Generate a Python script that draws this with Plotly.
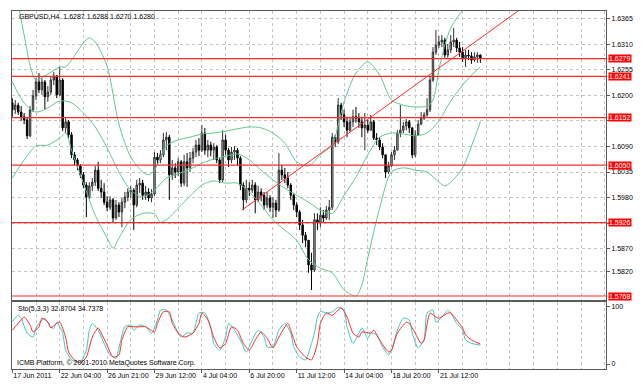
import plotly.graph_objects as go

# ---------------- data ----------------
bars = list(range(159))

opens = [
    1.6184, 1.6169, 1.6179, 1.6164, 1.6154, 1.6147, 1.6113, 1.6169, 1.6199, 1.6229,
    1.6212, 1.6229, 1.6197, 1.6207, 1.6233, 1.6242, 1.6201, 1.6233, 1.6130, 1.6143,
    1.6115, 1.6072, 1.6061, 1.6048, 1.6029, 1.6007, 1.5981, 1.6005, 1.6013, 1.6039,
    1.6000, 1.5992, 1.5970, 1.5959, 1.5975, 1.5936, 1.5964, 1.5949, 1.5970, 1.5981,
    1.5992, 1.5996, 1.5964, 1.6007, 1.6011, 1.5985, 1.5992, 1.5979, 1.5988, 1.6067,
    1.6061, 1.6072, 1.6104, 1.6110, 1.6029, 1.6044, 1.6035, 1.6057, 1.6011, 1.6057,
    1.6044, 1.6065, 1.6078, 1.6093, 1.6082, 1.6119, 1.6082, 1.6093, 1.6082, 1.6089,
    1.6061, 1.6018, 1.6104, 1.6082, 1.6061, 1.6078, 1.6082, 1.6065, 1.6007, 1.5975,
    1.6000, 1.5996, 1.6007, 1.5975, 1.5992, 1.5985, 1.5964, 1.5979, 1.5959, 1.5968,
    1.5953, 1.6039, 1.6029, 1.6022, 1.6007, 1.5985, 1.5964, 1.5949, 1.5921, 1.5899,
    1.5888, 1.5835, 1.5824, 1.5932, 1.5927, 1.5942, 1.5936, 1.5953, 1.5959, 1.6110,
    1.6100, 1.6179, 1.6158, 1.6143, 1.6125, 1.6143, 1.6154, 1.6151, 1.6143, 1.6130,
    1.6136, 1.6125, 1.6143, 1.6108, 1.6104, 1.6089, 1.6072, 1.6035, 1.6048, 1.6072,
    1.6082, 1.6119, 1.6125, 1.6134, 1.6143, 1.6130, 1.6072, 1.6115, 1.6138, 1.6151,
    1.6158, 1.6169, 1.6233, 1.6293, 1.6308, 1.6315, 1.6319, 1.6287, 1.6298, 1.6315,
    1.6319, 1.6302, 1.6293, 1.6281, 1.6287, 1.6285, 1.6276, 1.6283, 1.6287,
]
highs = [
    1.6194, 1.6190, 1.6184, 1.6177, 1.6162, 1.6154, 1.6177, 1.6212, 1.6237, 1.6248,
    1.6237, 1.6233, 1.6220, 1.6240, 1.6250, 1.6244, 1.6261, 1.6237, 1.6151, 1.6147,
    1.6121, 1.6078, 1.6065, 1.6052, 1.6035, 1.6013, 1.6013, 1.6022, 1.6048, 1.6057,
    1.6018, 1.6011, 1.5983, 1.5983, 1.5979, 1.5975, 1.5970, 1.5979, 1.5992, 1.6000,
    1.6005, 1.6000, 1.6018, 1.6022, 1.6018, 1.6005, 1.6000, 1.5998, 1.6078, 1.6076,
    1.6082, 1.6119, 1.6121, 1.6115, 1.6061, 1.6054, 1.6065, 1.6061, 1.6072, 1.6076,
    1.6078, 1.6087, 1.6104, 1.6108, 1.6136, 1.6130, 1.6104, 1.6100, 1.6097, 1.6093,
    1.6065, 1.6125, 1.6115, 1.6087, 1.6089, 1.6091, 1.6087, 1.6069, 1.6013, 1.6018,
    1.6013, 1.6018, 1.6013, 1.6005, 1.6000, 1.5992, 1.5992, 1.5985, 1.5981, 1.5975,
    1.6076, 1.6050, 1.6044, 1.6035, 1.6011, 1.5990, 1.5970, 1.5953, 1.5932, 1.5906,
    1.5888, 1.5861, 1.5946, 1.5946, 1.5959, 1.5953, 1.5962, 1.5975, 1.6119, 1.6115,
    1.6194, 1.6184, 1.6169, 1.6154, 1.6154, 1.6169, 1.6175, 1.6162, 1.6154, 1.6162,
    1.6147, 1.6158, 1.6147, 1.6119, 1.6110, 1.6097, 1.6072, 1.6057, 1.6078, 1.6091,
    1.6125, 1.6179, 1.6143, 1.6149, 1.6147, 1.6132, 1.6125, 1.6147, 1.6164, 1.6164,
    1.6194, 1.6240, 1.6304, 1.6341, 1.6328, 1.6330, 1.6324, 1.6311, 1.6330, 1.6345,
    1.6324, 1.6315, 1.6304, 1.6298, 1.6298, 1.6293, 1.6293, 1.6293, 1.6288,
]
lows = [
    1.6154, 1.6160, 1.6158, 1.6145, 1.6138, 1.6106, 1.6110, 1.6164, 1.6190, 1.6205,
    1.6201, 1.6169, 1.6186, 1.6201, 1.6222, 1.6194, 1.6199, 1.6123, 1.6119, 1.6108,
    1.6065, 1.6050, 1.6039, 1.6022, 1.6000, 1.5938, 1.5977, 1.5994, 1.6005, 1.5994,
    1.5979, 1.5964, 1.5951, 1.5953, 1.5925, 1.5932, 1.5938, 1.5916, 1.5957, 1.5972,
    1.5979, 1.5910, 1.5959, 1.5990, 1.5975, 1.5975, 1.5972, 1.5970, 1.5983, 1.6050,
    1.6054, 1.6067, 1.6082, 1.5975, 1.6018, 1.6022, 1.6026, 1.6003, 1.6005, 1.6003,
    1.6035, 1.6054, 1.6067, 1.6069, 1.6078, 1.6072, 1.6067, 1.6069, 1.6061, 1.6054,
    1.6011, 1.6013, 1.6072, 1.6046, 1.6054, 1.6061, 1.6048, 1.5996, 1.5953, 1.5968,
    1.5983, 1.5990, 1.5946, 1.5970, 1.5972, 1.5953, 1.5957, 1.5949, 1.5936, 1.5938,
    1.5949, 1.6018, 1.6011, 1.6000, 1.5975, 1.5953, 1.5938, 1.5910, 1.5882, 1.5873,
    1.5818, 1.5781, 1.5820, 1.5910, 1.5916, 1.5925, 1.5932, 1.5932, 1.5953, 1.6089,
    1.6095, 1.6147, 1.6132, 1.6110, 1.6121, 1.6132, 1.6141, 1.6130, 1.6110, 1.6082,
    1.6119, 1.6125, 1.6104, 1.6093, 1.6082, 1.6065, 1.6022, 1.6031, 1.6046, 1.6061,
    1.6082, 1.6110, 1.6119, 1.6125, 1.6119, 1.6065, 1.6067, 1.6113, 1.6136, 1.6147,
    1.6154, 1.6164, 1.6229, 1.6287, 1.6302, 1.6304, 1.6281, 1.6281, 1.6291, 1.6304,
    1.6293, 1.6283, 1.6272, 1.6261, 1.6276, 1.6268, 1.6272, 1.6270, 1.6270,
]
closes = [
    1.6169, 1.6179, 1.6164, 1.6154, 1.6147, 1.6113, 1.6169, 1.6199, 1.6229, 1.6212,
    1.6229, 1.6197, 1.6207, 1.6233, 1.6242, 1.6201, 1.6233, 1.6130, 1.6143, 1.6115,
    1.6072, 1.6061, 1.6048, 1.6029, 1.6007, 1.5981, 1.6005, 1.6013, 1.6039, 1.6000,
    1.5992, 1.5970, 1.5959, 1.5975, 1.5936, 1.5964, 1.5949, 1.5970, 1.5981, 1.5992,
    1.5996, 1.5964, 1.6007, 1.6011, 1.5985, 1.5992, 1.5979, 1.5988, 1.6067, 1.6061,
    1.6072, 1.6104, 1.6110, 1.6029, 1.6044, 1.6035, 1.6057, 1.6011, 1.6057, 1.6044,
    1.6065, 1.6078, 1.6093, 1.6082, 1.6119, 1.6082, 1.6093, 1.6082, 1.6089, 1.6061,
    1.6018, 1.6104, 1.6082, 1.6061, 1.6078, 1.6082, 1.6065, 1.6007, 1.5975, 1.6000,
    1.5996, 1.6007, 1.5975, 1.5992, 1.5985, 1.5964, 1.5979, 1.5959, 1.5968, 1.5953,
    1.6039, 1.6029, 1.6022, 1.6007, 1.5985, 1.5964, 1.5949, 1.5921, 1.5899, 1.5888,
    1.5835, 1.5824, 1.5932, 1.5927, 1.5942, 1.5936, 1.5953, 1.5959, 1.6110, 1.6100,
    1.6179, 1.6158, 1.6143, 1.6125, 1.6143, 1.6154, 1.6151, 1.6143, 1.6130, 1.6136,
    1.6125, 1.6143, 1.6108, 1.6104, 1.6089, 1.6072, 1.6035, 1.6048, 1.6072, 1.6082,
    1.6119, 1.6125, 1.6134, 1.6143, 1.6130, 1.6072, 1.6115, 1.6138, 1.6151, 1.6158,
    1.6169, 1.6233, 1.6293, 1.6308, 1.6315, 1.6319, 1.6287, 1.6298, 1.6315, 1.6319,
    1.6302, 1.6293, 1.6281, 1.6287, 1.6285, 1.6276, 1.6283, 1.6287, 1.6280,
]

# Bollinger bands (sampled along the drawn curves)
bb_upper_x = [0, 2, 4, 6, 8, 12, 16, 18, 20, 24, 26, 28, 32, 36, 40, 44, 46, 48, 52, 56,
              60, 64, 68, 72, 76, 80, 84, 88, 92, 96, 100, 104, 108, 110, 112, 116, 120, 124, 128, 132,
              136, 140, 142, 144, 146, 148, 152, 156, 158]
bb_upper = [1.6459, 1.6397, 1.6330, 1.6265, 1.6233, 1.6246, 1.6261, 1.6261, 1.6276, 1.6313,
            1.6324, 1.6315, 1.6263, 1.6138, 1.6067, 1.6035, 1.6029, 1.6039, 1.6091, 1.6104,
            1.6110, 1.6117, 1.6119, 1.6123, 1.6128, 1.6132, 1.6130, 1.6119, 1.6097, 1.6057,
            1.6048, 1.6072, 1.6093, 1.6136, 1.6186, 1.6248, 1.6272, 1.6244, 1.6190, 1.6179,
            1.6175, 1.6177, 1.6190, 1.6255, 1.6308, 1.6345, 1.6382, 1.6397, 1.6392]
bb_mid_x = [0, 4, 8, 12, 16, 20, 24, 28, 32, 36, 40, 44, 48, 52, 56, 60, 64, 68, 72, 76,
            80, 84, 88, 92, 96, 100, 104, 108, 112, 116, 120, 124, 128, 132, 136, 140, 144, 148, 152, 156, 158]
bb_mid = [1.6229, 1.6184, 1.6164, 1.6173, 1.6188, 1.6184, 1.6162, 1.6132, 1.6087, 1.6035,
          1.5996, 1.5981, 1.5996, 1.6022, 1.6031, 1.6041, 1.6054, 1.6063, 1.6069, 1.6074,
          1.6061, 1.6039, 1.6018, 1.6000, 1.5985, 1.5970, 1.5953, 1.5946, 1.5985, 1.6024,
          1.6072, 1.6110, 1.6119, 1.6117, 1.6113, 1.6119, 1.6145, 1.6188, 1.6222, 1.6250, 1.6261]
bb_lower_x = [0, 4, 8, 12, 16, 18, 20, 24, 28, 32, 34, 36, 40, 44, 48, 50, 52, 56, 60, 64,
              68, 72, 76, 80, 84, 88, 92, 96, 100, 104, 108, 112, 116, 118, 120, 124, 128, 132, 136, 140,
              144, 146, 148, 152, 156, 158]
bb_lower = [1.6022, 1.6061, 1.6091, 1.6093, 1.6108, 1.6119, 1.6082, 1.6011, 1.5942, 1.5893,
            1.5871, 1.5893, 1.5932, 1.5946, 1.5945, 1.5927, 1.5932, 1.5957, 1.5983, 1.6007,
            1.6016, 1.6011, 1.6011, 1.5992, 1.5964, 1.5932, 1.5910, 1.5888, 1.5846, 1.5828,
            1.5818, 1.5781, 1.5768, 1.5792, 1.5850, 1.5957, 1.6035, 1.6044, 1.6039, 1.6035,
            1.6013, 1.6005, 1.6013, 1.6044, 1.6108, 1.6143]

# Stochastic (5,3,3)
sto_main_x = [0, 2, 3, 5, 7, 8, 10, 11, 13, 14, 15, 17, 18, 20, 21, 23, 25, 26, 27, 29,
              31, 33, 35, 36, 38, 40, 41, 43, 45, 47, 49, 50, 52, 54, 56, 57, 59, 61, 62, 63,
              65, 67, 68, 70, 72, 73, 75, 77, 79, 81, 83, 85, 86, 88, 90, 92, 94, 95, 97, 99,
              100, 102, 103, 104, 106, 108, 110, 112, 113, 115, 117, 118, 120, 121, 123, 125, 127, 128, 130, 132,
              134, 135, 137, 139, 140, 142, 143, 145, 147, 148, 150, 152, 153, 155, 158]
sto_main = [74, 85, 80, 54, 47, 63, 77, 80, 65, 62, 73, 54, 24, 8, 4, 4, 24, 59, 71, 59,
            36, 16, 10, 28, 65, 68, 59, 68, 65, 54, 77, 94, 94, 77, 54, 47, 54, 54, 71, 89,
            89, 65, 36, 24, 47, 71, 59, 42, 21, 42, 59, 47, 30, 30, 59, 71, 54, 30, 12, 7,
            19, 54, 82, 92, 89, 91, 99, 94, 65, 36, 54, 63, 45, 54, 51, 30, 16, 24, 59, 80,
            77, 54, 28, 42, 89, 94, 73, 82, 94, 89, 71, 59, 42, 36, 32.87]
sto_signal_x = [0, 3, 4, 6, 7, 9, 10, 12, 13, 15, 16, 18, 19, 21, 23, 25, 27, 29, 30, 32,
                34, 36, 37, 39, 41, 43, 45, 48, 49, 51, 53, 54, 56, 58, 61, 63, 64, 66, 68, 70,
                72, 74, 76, 78, 80, 82, 84, 86, 88, 90, 93, 94, 96, 99, 101, 103, 104, 106, 108, 111,
                113, 115, 117, 118, 121, 122, 124, 127, 128, 130, 133, 134, 136, 138, 139, 141, 143, 144, 147, 148,
                150, 152, 153, 155, 158]
sto_signal = [59, 77, 82, 68, 56, 65, 80, 73, 63, 71, 73, 47, 21, 7, 2, 12, 47, 63, 54, 33,
              12, 16, 42, 65, 65, 65, 65, 56, 71, 91, 91, 71, 54, 47, 54, 71, 89, 77, 47, 28,
              36, 65, 59, 36, 24, 42, 56, 45, 28, 47, 71, 59, 30, 12, 7, 36, 71, 89, 85, 98,
              82, 54, 47, 56, 54, 59, 42, 21, 24, 54, 73, 71, 54, 36, 42, 89, 82, 80, 89, 89,
              77, 63, 51, 42, 34.74]

level_prices = [1.6279, 1.6241, 1.6152, 1.6050, 1.5926, 1.5768]
trend_x = [77.5, 171.0]
trend_y = [1.5953, 1.6383]

price_ticks = [1.6365, 1.6310, 1.6255, 1.6200, 1.6145, 1.6090, 1.6035, 1.5980, 1.5925, 1.5870, 1.5820]
hidden_price_ticks = [1.6145, 1.5925]   # covered by the red level boxes in the reference
time_tick_bars = [0, 16, 32, 48, 64, 80, 96, 112, 128, 144]
time_tick_labels = ["17 Jun 2011", "22 Jun 04:00", "26 Jun 21:00", "29 Jun 12:00", "4 Jul 04:00",
                    "6 Jul 20:00", "11 Jul 12:00", "14 Jul 04:00", "18 Jul 20:00", "21 Jul 12:00"]
extra_grid_bars = [8, 24, 40, 56, 72, 88, 104, 120, 136, 152, 160, 168, 176, 184, 192, 200]

title_text = "GBPUSD,H4\u00a0\u00a01.6287 1.6288 1.6270 1.6280"
sto_text = "Sto(5,3,3) 32.8704 34.7378"
copyright_text = "ICMB Platform, \u00a9 2001-2010 MetaQuotes Software Corp."

# ---------------- figure ----------------
FONT = "Liberation Sans, Arial, sans-serif"
GRID = "#c4c4c4"
FRAME = "#5a5a5a"
GREEN = "#5cc98c"
RED = "#ff2a2a"
XR = [-0.1, 200.41]

fig = go.Figure()

for bx, by in ((bb_upper_x, bb_upper), (bb_mid_x, bb_mid), (bb_lower_x, bb_lower)):
    fig.add_trace(go.Scatter(x=bx, y=by, mode="lines", xaxis="x", yaxis="y",
                             line=dict(color=GREEN, width=1, shape="spline", smoothing=0.8),
                             hoverinfo="skip"))

fig.add_trace(go.Candlestick(
    x=bars, open=opens, high=highs, low=lows, close=closes, xaxis="x", yaxis="y",
    increasing=dict(line=dict(color="#303030", width=1), fillcolor="#b4b4b4"),
    decreasing=dict(line=dict(color="#000000", width=1), fillcolor="#000000"),
    whiskerwidth=0))

fig.add_trace(go.Scatter(x=trend_x, y=trend_y, mode="lines", xaxis="x", yaxis="y",
                         line=dict(color=RED, width=1), hoverinfo="skip"))

fig.add_trace(go.Scatter(x=sto_main_x, y=sto_main, mode="lines", xaxis="x2", yaxis="y2",
                         line=dict(color="#3cc6c0", width=1, shape="spline", smoothing=0.6),
                         hoverinfo="skip"))
fig.add_trace(go.Scatter(x=sto_signal_x, y=sto_signal, mode="lines", xaxis="x2", yaxis="y2",
                         line=dict(color=RED, width=1, shape="spline", smoothing=0.6),
                         hoverinfo="skip"))

shapes = []
for p in level_prices:
    shapes.append(dict(type="line", xref="x domain", x0=0, x1=1, yref="y", y0=p, y1=p,
                       line=dict(color=RED, width=1.2), layer="above"))

annotations = []
for p in level_prices:
    annotations.append(dict(xref="paper", x=1, xanchor="left", xshift=2, yref="y", y=p,
                            yanchor="middle", text=f"{p:.4f}", showarrow=False,
                            font=dict(family=FONT, size=7, color="white"),
                            bgcolor="#ff0000", borderpad=0))
annotations.append(dict(xref="paper", x=0.0079, xanchor="left", yref="paper", y=0.984,
                        yanchor="middle", text=title_text, showarrow=False,
                        font=dict(family=FONT, size=7, color="black")))
annotations.append(dict(xref="paper", x=0.0065, xanchor="left", yref="paper", y=0.1676,
                        yanchor="middle", text=sto_text, showarrow=False,
                        font=dict(family=FONT, size=7, color="black")))
annotations.append(dict(xref="paper", x=0.005, xanchor="left", yref="paper", y=0.0176,
                        yanchor="middle", text=copyright_text, showarrow=False,
                        font=dict(family=FONT, size=7, color="black")))

price_ticktext = ["" if v in hidden_price_ticks else f"{v:.4f}" for v in price_ticks]

fig.update_layout(
    width=644, height=385,
    margin=dict(l=12, r=38, t=11, b=16, autoexpand=False),
    paper_bgcolor="white", plot_bgcolor="white",
    showlegend=False,
    font=dict(family=FONT, size=7, color="black"),
    shapes=shapes, annotations=annotations,
    xaxis=dict(domain=[0, 1], anchor="y", range=XR, showticklabels=False,
               tickmode="array", tickvals=time_tick_bars, ticks="",
               showgrid=True, gridcolor=GRID, griddash="dot", gridwidth=1,
               minor=dict(tickmode="array", tickvals=extra_grid_bars, showgrid=True,
                          gridcolor=GRID, griddash="dot", gridwidth=1, ticks=""),
               showline=True, mirror=True, linecolor=FRAME, linewidth=1,
               zeroline=False, rangeslider=dict(visible=False), fixedrange=True,
               automargin=False),
    yaxis=dict(domain=[0.19274, 1], anchor="x", range=[1.57594, 1.63817], side="right",
               tickmode="array", tickvals=price_ticks, ticktext=price_ticktext,
               ticks="outside", ticklen=3, tickcolor=FRAME,
               showgrid=True, gridcolor=GRID, griddash="dot", gridwidth=1,
               showline=True, mirror=True, linecolor=FRAME, linewidth=1,
               zeroline=False, tickfont=dict(family=FONT, size=7, color="black"),
               automargin=False),
    xaxis2=dict(domain=[0, 1], anchor="y2", range=XR,
                tickmode="array", tickvals=time_tick_bars, ticktext=time_tick_labels,
                tickangle=0, ticklabelposition="outside right",
                ticks="outside", ticklen=3, tickcolor=FRAME,
                showgrid=True, gridcolor=GRID, griddash="dot", gridwidth=1,
                minor=dict(tickmode="array", tickvals=extra_grid_bars, showgrid=True,
                           gridcolor=GRID, griddash="dot", gridwidth=1, ticks=""),
                showline=True, mirror=True, linecolor=FRAME, linewidth=1,
                zeroline=False, tickfont=dict(family=FONT, size=7, color="black"),
                automargin=False),
    yaxis2=dict(domain=[0, 0.18631], anchor="x2", range=[-8.7, 107.7], side="right",
                tickmode="array", tickvals=[0, 100], ticktext=["0", "100"],
                ticks="outside", ticklen=3, tickcolor=FRAME, showgrid=False,
                showline=True, mirror=True, linecolor=FRAME, linewidth=1,
                zeroline=False, tickfont=dict(family=FONT, size=7, color="black"),
                automargin=False),
)

# remove the browser's default 8px page margin so the 644x385 figure fills the window
fig.write_html("out.html",
               config={"displayModeBar": False},
               post_script="document.body.style.margin='0';document.body.style.overflow='hidden';")
